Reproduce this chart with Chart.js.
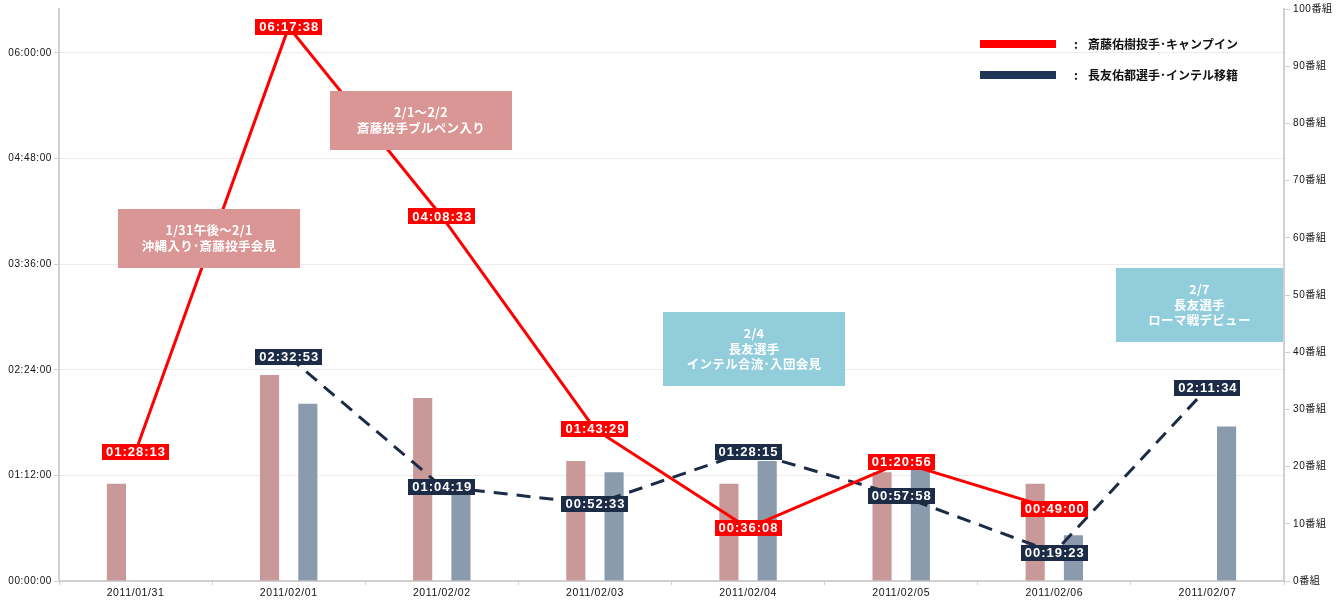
<!DOCTYPE html>
<html>
<head>
<meta charset="utf-8">
<script src="https://cdn.jsdelivr.net/npm/chart.js@4/dist/chart.umd.min.js"></script>
<style>
html,body{margin:0;padding:0;background:#fff;}
#wrap{width:1340px;height:602px;}
</style>
</head>
<body>
<div id="wrap"><canvas id="c" width="1340" height="602"></canvas></div>
<script>
// ---------- data ----------
const categories = ['2011/01/31','2011/02/01','2011/02/02','2011/02/03','2011/02/04','2011/02/05','2011/02/06','2011/02/07'];
const saitoTime    = ['01:28:13','06:17:38','04:08:33','01:43:29','00:36:08','01:20:56','00:49:00',null];
const nagatomoTime = [null,'02:32:53','01:04:19','00:52:33','01:28:15','00:57:58','00:19:23','02:11:34'];
const saitoPrograms    = [17,36,32,21,17,19,17,null];
const nagatomoPrograms = [null,31,16,19,21,20,8,27];
const timeTicks = ['00:00:00','01:12:00','02:24:00','03:36:00','04:48:00','06:00:00'];
const timeAxisMax = '06:30:00';
const programTicks = [0,10,20,30,40,50,60,70,80,90,100];
const programUnit = '番組';
const legendLabels = ['斎藤佑樹投手･キャンプイン','長友佑都選手･インテル移籍'];
const noteTexts = [
  ['1/31午後〜2/1','沖縄入り･斎藤投手会見'],
  ['2/1〜2/2','斎藤投手ブルペン入り'],
  ['2/4','長友選手','インテル合流･入団会見'],
  ['2/7','長友選手','ローマ戦デビュー']
];

// ---------- helpers ----------
function toSec(s){ if(s==null) return null; const p=s.split(':').map(Number); return p[0]*3600+p[1]*60+p[2]; }
function fmt(v){ const h=Math.floor(v/3600), m=Math.floor((v%3600)/60), s=Math.round(v%60); return [h,m,s].map(n=>String(n).padStart(2,'0')).join(':'); }

// ---------- styles ----------
const RED = '#ff0000';
const NAVY = '#1c2c47';
const PINK_BAR = '#c99898';
const BLUE_BAR = '#8a9bae';
const NOTE_PINK = '#d99694';
const NOTE_BLUE = '#92cddc';
// annotation anchors: category position / seconds on time axis for box centre
const noteBoxes = [
  {cat:0.48,  sec:14011, w:182, h:59, color:NOTE_PINK},
  {cat:1.864, sec:18839, w:182, h:59, color:NOTE_PINK},
  {cat:4.039, sec:9491,  w:182, h:74, color:NOTE_BLUE},
  {cat:6.948, sec:11291, w:167, h:74, color:NOTE_BLUE}
];
const LABEL_FONT = 'bold 13px "Liberation Sans", Arial, sans-serif';
const CJK_FONT = '"Noto Sans CJK JP", "Liberation Sans", sans-serif';

const spacingPlugin = {
  id:'spacing',
  beforeDraw(chart){ chart.ctx.letterSpacing = '0.6px'; }
};

const pointLabelPlugin = {
  id:'pointLabels',
  afterDatasetsDraw(chart){
    const ctx = chart.ctx;
    const sets = [
      {idx:0, texts:saitoTime, color:RED},
      {idx:1, texts:nagatomoTime, color:NAVY}
    ];
    ctx.save();
    ctx.font = LABEL_FONT;
    ctx.letterSpacing = '1px';
    ctx.textAlign = 'center';
    ctx.textBaseline = 'middle';
    sets.forEach(s=>{
      const meta = chart.getDatasetMeta(s.idx);
      s.texts.forEach((t,i)=>{
        if(t==null) return;
        const el = meta.data[i];
        const w = ctx.measureText(t).width + 7;
        const h = 16;
        ctx.fillStyle = s.color;
        ctx.fillRect(Math.round(el.x - w/2), Math.round(el.y - h/2), Math.round(w), h);
        ctx.fillStyle = '#ffffff';
        ctx.fillText(t, el.x + 0.5, el.y + 0.5);
      });
    });
    ctx.restore();
  }
};

const notesPlugin = {
  id:'notes',
  afterDatasetsDraw(chart){
    const ctx = chart.ctx;
    const xs = chart.scales.x, ys = chart.scales.yTime;
    ctx.save();
    noteBoxes.forEach((b,i)=>{
      const cx = xs.getPixelForValue(b.cat);
      const cy = ys.getPixelForValue(b.sec);
      ctx.fillStyle = b.color;
      ctx.fillRect(Math.round(cx - b.w/2), Math.round(cy - b.h/2), b.w, b.h);
      const lines = noteTexts[i];
      const lh = 15.7;
      ctx.fillStyle = '#ffffff';
      ctx.font = 'bold 12.5px ' + CJK_FONT;
      ctx.letterSpacing = '0.3px';
      ctx.textAlign = 'center';
      ctx.textBaseline = 'middle';
      lines.forEach((ln,k)=>{
        ctx.fillText(ln, cx, cy + (k - (lines.length-1)/2)*lh);
      });
    });
    ctx.restore();
  }
};

const legendPlugin = {
  id:'customLegend',
  afterDraw(chart){
    const ctx = chart.ctx;
    const items = [{c:RED, y:44}, {c:'#1f3558', y:75}];
    ctx.save();
    ctx.letterSpacing = '0px';
    items.forEach((it,i)=>{
      ctx.fillStyle = it.c;
      ctx.fillRect(980, it.y - 4, 76, 8);
      ctx.fillStyle = '#111';
      ctx.font = 'bold 12px ' + CJK_FONT;
      ctx.textBaseline = 'middle';
      ctx.textAlign = 'left';
      ctx.fillText(':', 1074, it.y);
      ctx.fillText(legendLabels[i], 1088, it.y);
    });
    ctx.restore();
  }
};

new Chart(document.getElementById('c'), {
  data:{
    labels:categories,
    datasets:[
      {type:'line', label:legendLabels[0], data:saitoTime.map(toSec), yAxisID:'yTime',
       borderColor:RED, borderWidth:3, pointRadius:0, tension:0, order:0, spanGaps:false},
      {type:'line', label:legendLabels[1], data:nagatomoTime.map(toSec), yAxisID:'yTime',
       borderColor:NAVY, borderWidth:3, borderDash:[14,9], pointRadius:0, tension:0, order:0},
      {type:'bar', label:legendLabels[0], data:saitoPrograms, yAxisID:'yProg',
       backgroundColor:PINK_BAR, categoryPercentage:0.5, barPercentage:0.5, order:1},
      {type:'bar', label:legendLabels[1], data:nagatomoPrograms, yAxisID:'yProg',
       backgroundColor:BLUE_BAR, categoryPercentage:0.5, barPercentage:0.5, order:1}
    ]
  },
  options:{
    responsive:false,
    devicePixelRatio:1,
    animation:false,
    layout:{padding:{top:9,left:0,right:0,bottom:0}},
    plugins:{legend:{display:false}, tooltip:{enabled:false}},
    scales:{
      x:{
        offset:true,
        grid:{offset:true, drawOnChartArea:false, tickLength:4, tickColor:'#cfcfcf', color:'#cfcfcf'},
        border:{color:'#d0d0d0', width:2},
        ticks:{color:'#111', font:{size:10.5, family:'"Liberation Sans", Arial, sans-serif'}, padding:2, maxRotation:0, autoSkip:false},
        afterFit(s){ s.height = 21; }
      },
      yTime:{
        position:'left',
        min:0, max:toSec(timeAxisMax),
        afterBuildTicks(axis){ axis.ticks = timeTicks.map(t=>({value:toSec(t)})); },
        grid:{color:'#ececec', tickColor:'#d0d0d0', tickLength:5},
        border:{color:'#d0d0d0', width:2},
        ticks:{color:'#111', font:{size:10, family:'"Liberation Sans", Arial, sans-serif'}, padding:2, callback:v=>fmt(v)},
        afterFit(s){ s.width = 59; }
      },
      yProg:{
        position:'right',
        min:0, max:100,
        afterBuildTicks(axis){ axis.ticks = programTicks.map(v=>({value:v})); },
        grid:{drawOnChartArea:false, tickColor:'#d0d0d0', tickLength:6},
        border:{color:'#d0d0d0', width:2},
        ticks:{color:'#111', font:{size:10, family:'"Liberation Sans", "Noto Sans CJK JP", sans-serif'}, padding:3, callback:v=>v+programUnit},
        afterFit(s){ s.width = 56; }
      }
    }
  },
  plugins:[spacingPlugin, pointLabelPlugin, notesPlugin, legendPlugin]
});
</script>
</body>
</html>
